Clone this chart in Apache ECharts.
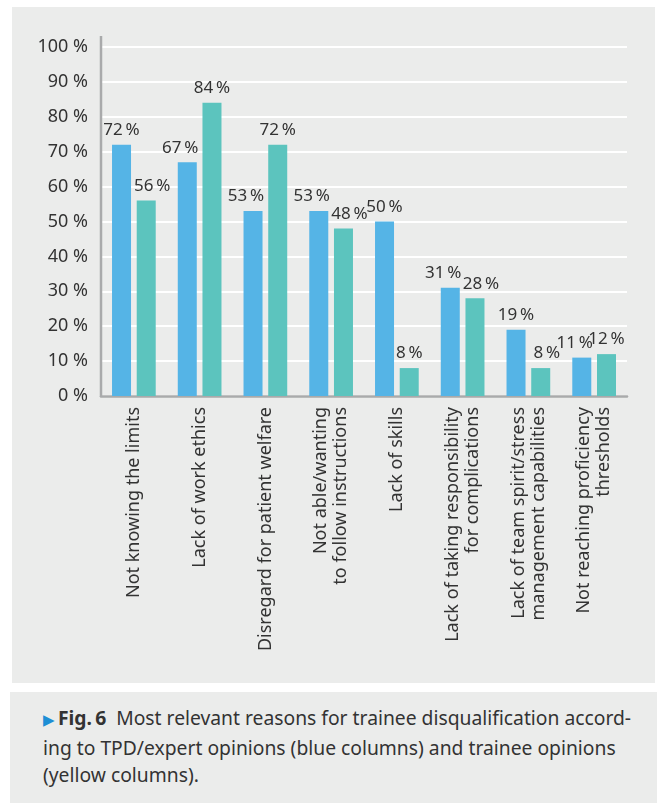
<!DOCTYPE html>
<html lang="en">
<head>
    <meta charset="UTF-8">
    <title>Fig. 6</title>
    <style>
        body {margin: 0; background: #ffffff; width: 657px; height: 803px; position: relative; overflow: hidden;
              font-family: "Noto Sans", sans-serif;}
        .panel {position: absolute; left: 12px; top: 7px; width: 643px; height: 676px; background: #ebeceb;}
        #chart {position: absolute; left: 0; top: 0; width: 657px; height: 690px;}
        .caption {position: absolute; left: 10px; top: 692px; width: 647px; height: 111px; background: #ebeceb;}
        .caption p {margin: 0; padding: 12px 0 0 33px; font-size: 19.3px; line-height: 27.5px; color: #333;
                    white-space: nowrap;}
        .caption .tri {color: #1d8fd5; font-size: 15px; margin-right: 3px;}
        .caption b {font-weight: bold;}
    </style>
</head>
<body>
    <div class="panel"></div>
    <div id="chart"></div>
    <div class="caption">
        <p><span class="tri">&#9654;</span><b>Fig.&#8201;6</b>&nbsp; Most relevant reasons for trainee disqualification accord-<br>ing to TPD/expert opinions (blue columns) and trainee opinions<br>(yellow columns).</p>
    </div>

    <script src="https://cdn.jsdelivr.net/npm/echarts@6/dist/echarts.min.js"></script>
    <script>
const categories = [
    'Not knowing the limits',
    'Lack of work ethics',
    'Disregard for patient welfare',
    'Not able/wanting\nto follow instructions',
    'Lack of skills',
    'Lack of taking responsibility\nfor complications',
    'Lack of team spirit/stress\nmanagement capabilities',
    'Not reaching proficiency\nthresholds'
];
const expertValues = [72, 67, 53, 53, 50, 31, 19, 11];   // blue
const traineeValues = [56, 84, 72, 48, 8, 28, 8, 12];    // teal
const yTicks = [0, 10, 20, 30, 40, 50, 60, 70, 80, 90, 100];

const FONT = '"Noto Sans", sans-serif';
const chart = echarts.init(document.getElementById('chart'));

// thin space between number and percent sign, like the print layout
const barLabel = {
    show: true,
    position: 'top',
    distance: 6,
    color: '#333',
    fontSize: 17,
    fontFamily: FONT,
    formatter: p => p.value + '\u2009%'
};

// nudge labels sideways when the neighbour column would crowd them
function blueLabelLayout(p) {
    const b = expertValues[p.dataIndex], t = traineeValues[p.dataIndex];
    return (t >= b || b - t < 10) ? {dx: -7} : {};
}
function tealLabelLayout(p) {
    const b = expertValues[p.dataIndex], t = traineeValues[p.dataIndex];
    return (b > t && b - t < 20) ? {dx: 6} : {};
}

chart.setOption({
    backgroundColor: 'transparent',
    animation: false,
    grid: {left: 101, top: 47, width: 526, height: 349},
    xAxis: {
        type: 'category',
        data: categories,
        axisLine: {lineStyle: {color: '#a9aaab', width: 2.5}},
        axisTick: {show: false},
        axisLabel: {
            rotate: 90,
            margin: 11,
            interval: 0,
            color: '#333',
            fontSize: 18,
            lineHeight: 20,
            fontFamily: FONT
        }
    },
    yAxis: {
        type: 'value',
        min: yTicks[0],
        max: yTicks[yTicks.length - 1],
        interval: 10,
        axisLine: {show: false},
        axisTick: {show: false},
        splitLine: {lineStyle: {color: '#ffffff', width: 2}},
        axisLabel: {
            margin: 13,
            color: '#333',
            fontSize: 18,
            fontFamily: FONT,
            formatter: v => v + ' %'
        }
    },
    series: [
        {
            name: 'TPD/expert',
            type: 'bar',
            data: expertValues,
            barWidth: 19,
            barGap: '30%',
            itemStyle: {color: '#55b4e6'},
            label: barLabel,
            labelLayout: blueLabelLayout
        },
        {
            name: 'Trainee',
            type: 'bar',
            data: traineeValues,
            barWidth: 19,
            itemStyle: {color: '#5cc4be'},
            label: barLabel,
            labelLayout: tealLabelLayout
        }
    ]
});

// y axis line runs a little past the 100 % gridline
const bottom = chart.convertToPixel({yAxisIndex: 0}, 0);
const topPx = chart.convertToPixel({yAxisIndex: 0}, 100);
chart.setOption({
    graphic: [{
        type: 'line',
        shape: {x1: 101, y1: topPx - 11, x2: 101, y2: bottom + 1},
        style: {stroke: '#a9aaab', lineWidth: 2.5},
        z: 10
    }]
});
    </script>
</body>
</html>
